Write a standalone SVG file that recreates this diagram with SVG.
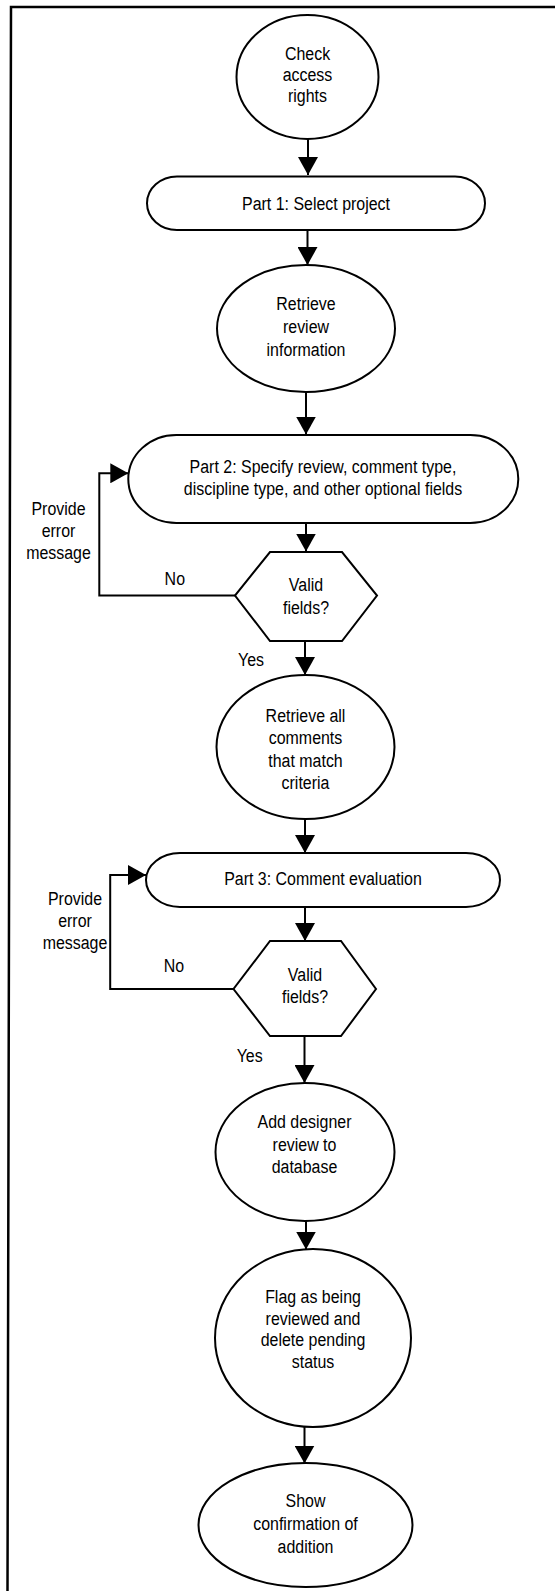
<svg xmlns="http://www.w3.org/2000/svg" width="555" height="1591" viewBox="0 0 555 1591">
<defs>
<marker id="ah" markerUnits="userSpaceOnUse" markerWidth="20" markerHeight="20" refX="18" refY="10" orient="auto" viewBox="0 0 20 20"><path d="M0,0 L18,10 L0,20 z" fill="#000"/></marker>
</defs>
<style>
.s{fill:#fff;stroke:#000;stroke-width:2}
.c{fill:none;stroke:#000;stroke-width:2;marker-end:url(#ah)}
.l{fill:none;stroke:#000;stroke-width:2}
.t{font-family:"Liberation Sans",Arial,sans-serif;font-size:19px;fill:#000;text-anchor:middle}
</style>
<rect x="0" y="0" width="555" height="1591" fill="#fff"/>
<path d="M7.5 1591 L11 7 L555 7" fill="none" stroke="#000" stroke-width="2.5"/>

<g id="connectors">
<path class="c" d="M308 139 V175"/>
<path class="c" d="M307.5 230 V265"/>
<path class="c" d="M306 392 V434.5"/>
<path class="c" d="M306 523 V551.5"/>
<path class="c" d="M305 641 V675"/>
<path class="c" d="M305 819 V853"/>
<path class="c" d="M305 907 V941"/>
<path class="c" d="M304.5 1036 V1083"/>
<path class="c" d="M306 1221 V1249.5"/>
<path class="c" d="M304.5 1427 V1463.5"/>
<path class="c" d="M235 595.5 H99.3 V473.3 H128.3"/>
<path class="c" d="M233.5 989 H110.2 V875 H146"/>
<text class="t" transform="translate(58.5 0) scale(0.84 1)"><tspan x="0" y="515">Provide</tspan><tspan x="0" y="537">error</tspan><tspan x="0" y="559">message</tspan></text>
<text class="t" transform="translate(174.8 0) scale(0.84 1)" x="0" y="585">No</text>
<text class="t" transform="translate(251 0) scale(0.84 1)" x="0" y="666">Yes</text>
<text class="t" transform="translate(75 0) scale(0.84 1)"><tspan x="0" y="905">Provide</tspan><tspan x="0" y="927">error</tspan><tspan x="0" y="949">message</tspan></text>
<text class="t" transform="translate(174 0) scale(0.84 1)" x="0" y="971.7">No</text>
<text class="t" transform="translate(249.7 0) scale(0.84 1)" x="0" y="1062.3">Yes</text>
</g>

<g id="n1">
<ellipse class="s" cx="307.5" cy="77" rx="71" ry="62"/>
<text class="t" transform="translate(307.5 0) scale(0.84 1)"><tspan x="0" y="60">Check</tspan><tspan x="0" y="81.5">access</tspan><tspan x="0" y="102">rights</tspan></text>
</g>
<g id="n2">
<rect class="s" x="147" y="176.5" width="338" height="53.5" rx="30" ry="26.75"/>
<text class="t" transform="translate(316 0) scale(0.84 1)" x="0" y="210.5">Part 1: Select project</text>
</g>
<g id="n3">
<ellipse class="s" cx="306" cy="328.5" rx="89" ry="63.5"/>
<text class="t" transform="translate(306 0) scale(0.84 1)"><tspan x="0" y="310">Retrieve</tspan><tspan x="0" y="333">review</tspan><tspan x="0" y="356">information</tspan></text>
</g>
<g id="n4">
<rect class="s" x="128.3" y="435" width="390" height="88" rx="48" ry="44"/>
<text class="t" transform="translate(323 0) scale(0.84 1)"><tspan x="0" y="473.5">Part 2: Specify review, comment type,</tspan><tspan x="0" y="495.5">discipline type, and other optional fields</tspan></text>
</g>
<g id="n5">
<polygon class="s" points="270,552 342,552 377,595.5 342,641 270,641 235,595.5"/>
<text class="t" transform="translate(306 0) scale(0.84 1)"><tspan x="0" y="591.5">Valid</tspan><tspan x="0" y="614">fields?</tspan></text>
</g>
<g id="n6">
<ellipse class="s" cx="305.5" cy="747" rx="89" ry="72"/>
<text class="t" transform="translate(305.5 0) scale(0.84 1)"><tspan x="0" y="722">Retrieve all</tspan><tspan x="0" y="744.5">comments</tspan><tspan x="0" y="767">that match</tspan><tspan x="0" y="789.5">criteria</tspan></text>
</g>
<g id="n7">
<rect class="s" x="146" y="853" width="354" height="54" rx="34" ry="27"/>
<text class="t" transform="translate(323 0) scale(0.84 1)" x="0" y="885">Part 3: Comment evaluation</text>
</g>
<g id="n8">
<polygon class="s" points="270,941 341,941 376,989 341,1036 270,1036 233.5,989"/>
<text class="t" transform="translate(305 0) scale(0.84 1)"><tspan x="0" y="981.5">Valid</tspan><tspan x="0" y="1003.5">fields?</tspan></text>
</g>
<g id="n9">
<ellipse class="s" cx="305" cy="1152" rx="89.5" ry="69"/>
<text class="t" transform="translate(304.5 0) scale(0.84 1)"><tspan x="0" y="1128.5">Add designer</tspan><tspan x="0" y="1151">review to</tspan><tspan x="0" y="1173.5">database</tspan></text>
</g>
<g id="n10">
<ellipse class="s" cx="313" cy="1338" rx="98" ry="89"/>
<text class="t" transform="translate(313 0) scale(0.84 1)"><tspan x="0" y="1303.5">Flag as being</tspan><tspan x="0" y="1325">reviewed and</tspan><tspan x="0" y="1346.5">delete pending</tspan><tspan x="0" y="1368">status</tspan></text>
</g>
<g id="n11">
<ellipse class="s" cx="305.5" cy="1525" rx="107" ry="62"/>
<text class="t" transform="translate(305.5 0) scale(0.84 1)"><tspan x="0" y="1507">Show</tspan><tspan x="0" y="1530">confirmation of</tspan><tspan x="0" y="1553">addition</tspan></text>
</g>
</svg>
